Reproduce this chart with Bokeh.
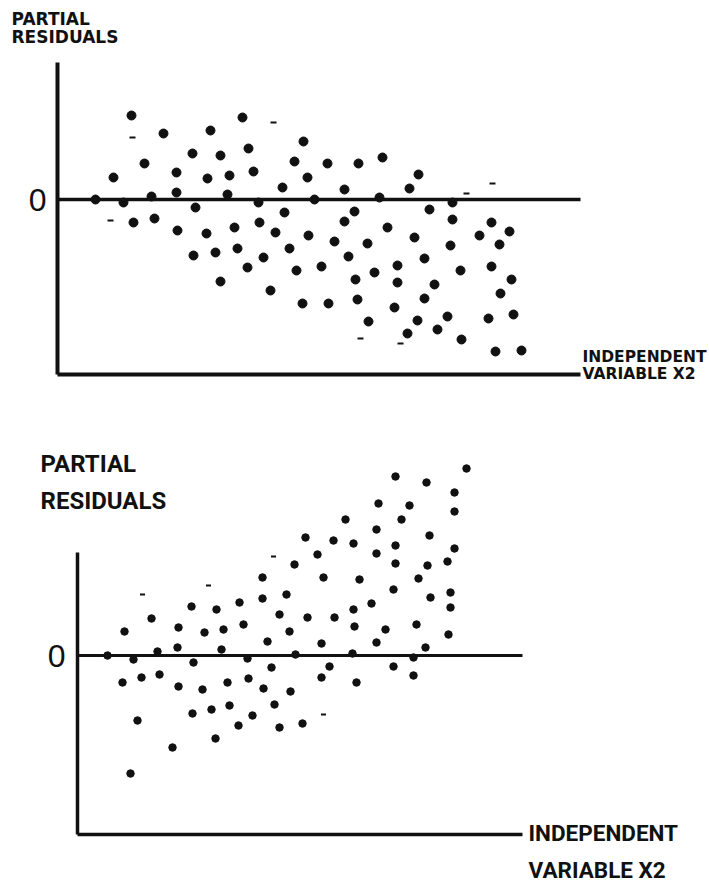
from bokeh.plotting import figure
from bokeh.models import Range1d, Label, FixedTicker, LinearAxis
from bokeh.layouts import column
from bokeh.embed import file_html
from bokeh.resources import INLINE

# ---------------- data: panel 1 (residuals fan out downward) ----------------
top_x = [7.4, 10.6, 18.5, 15.3, 24.6, 19.1, 13.5, 16.3, 8.7, 5.6,
         11.9, 15.0, 17.2, 19.6, 23.7, 27.0, 30.1, 25.0, 22.5, 28.7,
         3.8, 6.6, 9.4, 11.9, 13.8, 17.0, 20.1, 25.7, 7.6, 9.7,
         12.0, 14.9, 17.7, 20.2, 22.7, 21.8, 25.1, 27.7, 29.7, 28.7,
         13.6, 15.8, 18.0, 23.2, 20.6, 19.0, 23.9, 26.4, 29.1, 16.3,
         21.3, 24.5, 27.1, 29.8, 30.0, 32.5, 36.1, 35.2, 32.2, 39.5,
         37.2, 39.5, 43.4, 45.2, 31.0, 33.0, 35.7, 39.3, 42.2, 44.2,
         34.0, 36.7, 31.7, 40.3, 43.4, 34.0, 37.7, 45.4, 44.3, 36.7,
         33.7, 31.1, 36.0, 39.0, 43.1, 45.6, 35.0, 38.0, 40.4, 43.8,
         46.4]
top_y = [8.4, 6.6, 8.2, 6.9, 5.8, 5.1, 4.6, 4.4, 3.6, 2.2,
         2.7, 2.1, 2.4, 2.8, 3.8, 3.6, 3.6, 2.2, 1.2, 1.0,
         0.0, -0.3, 0.3, 0.7, -0.8, 0.5, -0.3, 0.0, -2.3, -1.9,
         -3.1, -3.4, -2.8, -2.3, -1.3, -3.3, -3.6, -4.2, -1.2, -2.2,
         -5.6, -5.3, -4.9, -4.9, -5.8, -6.8, -7.1, -6.7, -5.7, -8.2,
         -9.1, -10.4, -10.4, -8.0, -10.0, 4.2, 2.5, 1.1, 0.2, -0.3,
         -1.0, -2.0, -2.3, -3.2, -4.4, -2.8, -3.8, -4.6, -3.6, -4.5,
         -6.6, -5.9, -7.3, -7.1, -6.7, -8.3, -8.5, -8.0, -9.4, -9.9,
         -10.8, -12.2, -12.1, -11.7, -11.9, -11.5, -13.4, -13.0, -14.0, -15.2,
         -15.1]
top_speck_x = [7.5, 5.3, 21.6, 43.5, 30.3, 34.3, 40.9]
top_speck_y = [6.2, -2.1, 7.7, 1.6, -13.9, -14.4, 0.6]

# ---------------- data: panel 2 (residuals fan out upward) ----------------
bot_x = [26.8, 22.8, 25.6, 27.6, 24.0, 21.7, 24.6, 18.5, 28.2, 16.2,
         11.4, 13.9, 18.5, 20.9, 20.2, 23.0, 25.7, 27.6, 27.7, 7.4,
         4.7, 10.1, 12.7, 14.6, 16.6, 21.2, 19.0, 24.4, 10.0, 8.0,
         14.4, 3.0, 5.6, 11.6, 17.0, 21.8, 27.5, 4.5, 6.4, 8.2,
         10.1, 12.5, 15.0, 17.1, 19.4, 18.6, 21.3, 24.4, 25.2, 27.9,
         11.5, 13.4, 15.2, 17.5, 16.1, 19.7, 20.2, 22.5, 13.8, 9.5,
         5.3, 6.0, 38.9, 31.8, 34.9, 37.7, 37.7, 30.1, 33.2, 32.4,
         29.9, 35.2, 29.9, 31.8, 31.8, 35.0, 37.0, 37.7, 34.1, 31.6,
         35.3, 37.3, 37.3, 29.4, 30.8, 33.9, 37.1, 29.9, 34.8, 33.6,
         31.6, 33.6]
bot_y = [13.6, 11.8, 11.5, 11.2, 10.1, 9.1, 7.8, 7.8, 7.6, 5.3,
         4.9, 4.6, 5.7, 6.1, 4.1, 3.8, 3.8, 4.6, 2.9, 3.7,
         2.4, 2.8, 2.3, 2.6, 3.1, 2.4, 1.4, 1.2, 0.8, 0.4,
         0.6, 0.0, -0.4, -0.7, -0.3, 0.1, 0.2, -2.7, -2.2, -1.9,
         -3.1, -3.4, -2.7, -2.3, -1.2, -3.3, -3.6, -2.2, -1.1, -2.7,
         -5.8, -5.4, -5.0, -6.0, -7.0, -4.9, -7.2, -6.8, -8.3, -9.2,
         -11.8, -6.5, 18.7, 17.9, 17.3, 16.3, 14.4, 15.2, 15.0, 13.6,
         12.6, 12.0, 10.2, 11.0, 9.2, 9.0, 9.4, 10.7, 7.7, 6.6,
         5.8, 6.3, 4.8, 5.2, 2.6, 3.1, 2.1, 1.3, 0.8, -0.2,
         -1.1, -2.0]
bot_speck_x = [19.6, 13.1, 6.5, 24.6]
bot_speck_y = [9.9, 7.0, 6.1, -5.9]

zero_ticks = [0]
y_title = ["PARTIAL", "RESIDUALS"]
x_title = ["INDEPENDENT", "VARIABLE X2"]

INK = "#111111"


def panel(height, xr, yr, x_end, y_bottom, y_top, line_w, standoff):
    p = figure(width=709, height=height, x_range=Range1d(*xr), y_range=Range1d(*yr),
               x_axis_type=None, y_axis_type=None, toolbar_location=None,
               output_backend="svg", min_border=0,
               outline_line_color=None, background_fill_color="white",
               border_fill_color="white")
    p.grid.visible = False
    # vertical axis, drawn at x = 0
    yax = LinearAxis(ticker=FixedTicker(ticks=zero_ticks), bounds=(y_bottom, y_top),
                     fixed_location=0,
                     axis_line_width=line_w, axis_line_color=INK,
                     major_tick_line_color=None, minor_tick_line_color=None,
                     major_label_text_font="Liberation Sans",
                     major_label_text_font_size="32px",
                     major_label_text_color=INK, major_label_standoff=standoff)
    p.add_layout(yax, "left")
    # horizontal axis at the bottom of the residual scale
    xax = LinearAxis(ticker=FixedTicker(ticks=[]), bounds=(0, x_end),
                     fixed_location=y_bottom,
                     axis_line_width=line_w, axis_line_color=INK,
                     major_tick_line_color=None, minor_tick_line_color=None,
                     major_label_text_font_size="0px")
    p.add_layout(xax, "below")
    # zero-residual reference line
    zax = LinearAxis(ticker=FixedTicker(ticks=[]), bounds=(0, x_end),
                     fixed_location=0,
                     axis_line_width=line_w - 0.5, axis_line_color=INK,
                     major_tick_line_color=None, minor_tick_line_color=None,
                     major_label_text_font_size="0px")
    p.add_layout(zax, "below")
    return p


def add_text(p, x, y, text, font, size, style="bold"):
    p.add_layout(Label(x=x, y=y, text=text, text_font=font, text_font_size=size,
                       text_font_style=style, text_color=INK,
                       text_baseline="alphabetic", text_align="left"))


# ---------- panel 1 (page pixels 0..438) ----------
p1 = panel(438, (-5.7, 65.2), (-23.9, 19.9), 52.3, -17.5, 13.7, 4, 5)
p1.scatter(top_x, top_y, size=9, color=INK)
p1.scatter(top_speck_x, top_speck_y, marker="dash", size=6, line_width=2, color=INK)
add_text(p1, -4.6, 18.1, y_title[0], "DejaVu Sans", "17px")
add_text(p1, -4.6, 16.3, y_title[1], "DejaVu Sans", "17px")
add_text(p1, 52.5, -15.75, x_title[0], "DejaVu Sans", "15.5px")
add_text(p1, 52.5, -17.4, x_title[1], "DejaVu Sans", "15.5px")

# ---------- panel 2 (page pixels 438..882) ----------
p2 = panel(444, (-7.7, 63.2), (-22.7, 21.7), 44.5, -17.9, 10.3, 3.5, 6)
p2.scatter(bot_x, bot_y, size=7.5, color=INK)
p2.scatter(bot_speck_x, bot_speck_y, marker="dash", size=5, line_width=2, color=INK)
add_text(p2, -3.7, 19.2, y_title[0], "Roboto", "24px")
add_text(p2, -3.7, 15.5, y_title[1], "Roboto", "24px")
add_text(p2, 45.1, -17.7, x_title[0], "Roboto", "22.5px")
add_text(p2, 45.1, -21.4, x_title[1], "Roboto", "22.5px")

layout = column(p1, p2, spacing=0)
open("out.html", "w").write(file_html(layout, INLINE))
